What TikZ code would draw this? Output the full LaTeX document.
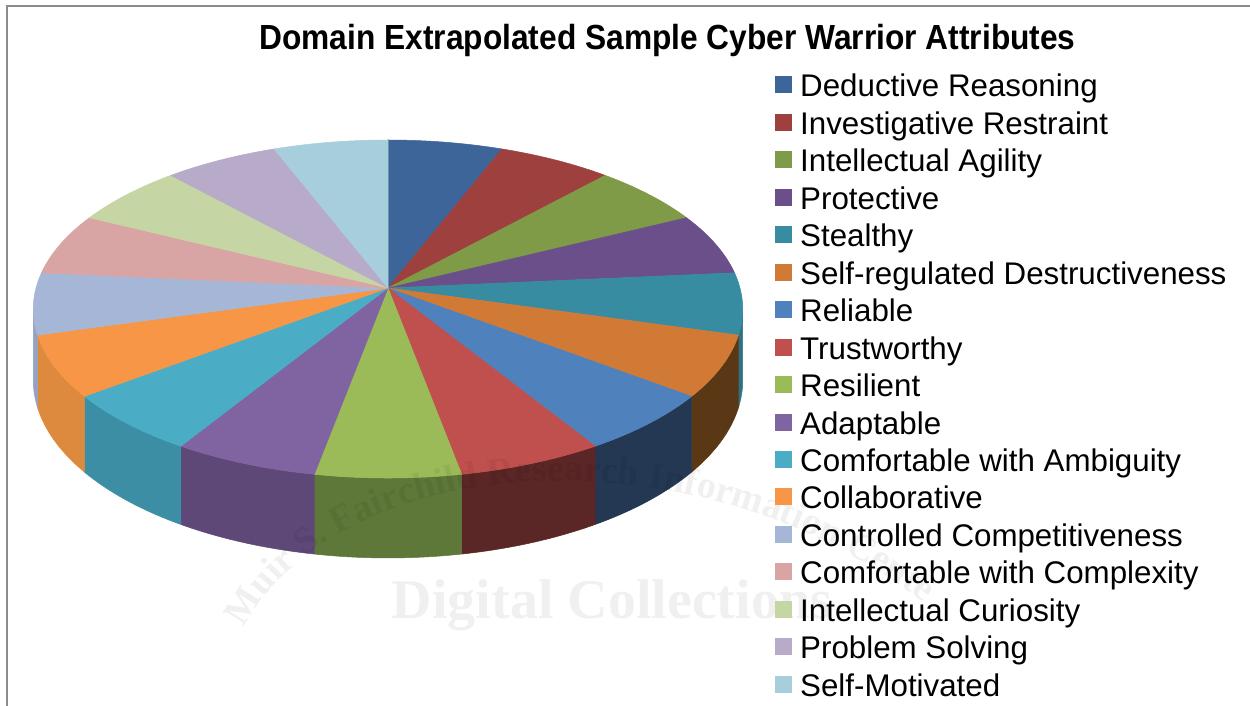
\documentclass[tikz,border=0pt]{standalone}
\usepackage{fontspec}
\setmainfont{Liberation Sans}
\newfontfamily\wmfont{Liberation Serif}
\usetikzlibrary{decorations.text}
\definecolor{c1}{HTML}{3D659A}
\definecolor{c2}{HTML}{9E403E}
\definecolor{c3}{HTML}{7F9B48}
\definecolor{c4}{HTML}{6A4F8A}
\definecolor{c5}{HTML}{378CA2}
\definecolor{c6}{HTML}{D07A35}
\definecolor{c7}{HTML}{4F81BD}
\definecolor{c8}{HTML}{C0504D}
\definecolor{c9}{HTML}{9BBB59}
\definecolor{c10}{HTML}{8064A2}
\definecolor{c11}{HTML}{4BACC6}
\definecolor{c12}{HTML}{F79646}
\definecolor{c13}{HTML}{A5B6D6}
\definecolor{c14}{HTML}{D9A5A4}
\definecolor{c15}{HTML}{C5D6A4}
\definecolor{c16}{HTML}{B8ABC9}
\definecolor{c17}{HTML}{A7CEDB}
\definecolor{s5}{HTML}{2E7285}
\definecolor{s6}{HTML}{5A3715}
\definecolor{s7}{HTML}{243853}
\definecolor{s8}{HTML}{5B2626}
\definecolor{s9}{HTML}{5E7839}
\definecolor{s10}{HTML}{5E4878}
\definecolor{s11}{HTML}{3B8EA3}
\definecolor{s12}{HTML}{DE8A3E}
\definecolor{s13}{HTML}{93A3C0}
\definecolor{framegray}{HTML}{8C8C8C}
\tikzset{
  legtext/.style={anchor=base west, inner sep=0pt, font=\fontsize{31.3}{37}\selectfont},
  legbox/.style={minimum width=17pt, minimum height=17pt, inner sep=0pt, anchor=center},
  titletext/.style={anchor=base, inner sep=0pt, font=\bfseries\fontsize{31.7}{36}\selectfont},
}
\begin{document}
\begin{tikzpicture}[x=1pt,y=-1pt,
  declare function={
    px(\t)=388+352*sin(\t)/(1+0.1243*cos(\t));
    py(\t)=288-166.4*cos(\t)/(1+0.1243*cos(\t));
    pb(\t)=py(\t)+70/(1+0.1243*cos(\t));
  }]
\useasboundingbox (0,0) rectangle (1250,706);
\fill[white] (0,0) rectangle (1250,706);
\draw[framegray, line width=2pt] (7,706) -- (7,6) -- (1250,6);

% title
\node[titletext, yscale=1.1] (title) at (667.5,50) {Domain Extrapolated Sample Cyber Warrior Attributes};

% side faces
\foreach \i/\c in {4/s5,5/s6,6/s7,7/s8,8/s9,9/s10,10/s11,11/s12,12/s13} {
  \pgfmathsetmacro\a{max(\i*360/17,97.14)}
  \pgfmathsetmacro\b{min((\i+1)*360/17,262.86)}
  \fill[\c, draw=\c, line width=0.5pt, line join=round]
    plot[domain=\a:\b, samples=24, variable=\t] ({px(\t)},{py(\t)})
    -- plot[domain=\b:\a, samples=24, variable=\t] ({px(\t)},{pb(\t)}) -- cycle;
}

% top faces
\foreach \i/\c in {0/c1,1/c2,2/c3,3/c4,4/c5,5/c6,6/c7,7/c8,8/c9,9/c10,10/c11,11/c12,12/c13,13/c14,14/c15,15/c16,16/c17} {
  \pgfmathsetmacro\a{\i*360/17}
  \pgfmathsetmacro\b{(\i+1)*360/17}
  \fill[\c, draw=\c, line width=0.5pt, line join=round]
    (388,288) -- plot[domain=\a:\b, samples=24, variable=\t] ({px(\t)},{py(\t)}) -- cycle;
}

% faint watermark
\begin{scope}[opacity=0.06]
  \node[inner sep=0pt, font=\wmfont\bfseries\fontsize{56}{56}\selectfont] (wm1) at (612,605) {Digital Collections};
  \path[decorate, decoration={text along path, text align=center,
      text={|\wmfont\bfseries\fontsize{38}{38}\selectfont|Muir S. Fairchild Research Information Center}}]
    (255,610) .. controls (360,450) and (700,430) .. (920,600);
\end{scope}

% legend
\foreach \i/\c/\t in {
  0/c1/Deductive Reasoning,
  1/c2/Investigative Restraint,
  2/c3/Intellectual Agility,
  3/c4/Protective,
  4/c5/Stealthy,
  5/c6/Self-regulated Destructiveness,
  6/c7/Reliable,
  7/c8/Trustworthy,
  8/c9/Resilient,
  9/c10/Adaptable,
  10/c11/Comfortable with Ambiguity,
  11/c12/Collaborative,
  12/c13/Controlled Competitiveness,
  13/c14/Comfortable with Complexity,
  14/c15/Intellectual Curiosity,
  15/c16/Problem Solving,
  16/c17/Self-Motivated} {
  \pgfmathsetmacro\yb{97+37.45*\i}
  \node[legbox, fill=\c] (box\i) at (783.5,\yb-12) {};
  \node[legtext] (leg\i) at (800,\yb) {\t};
}
\end{tikzpicture}
\end{document}
